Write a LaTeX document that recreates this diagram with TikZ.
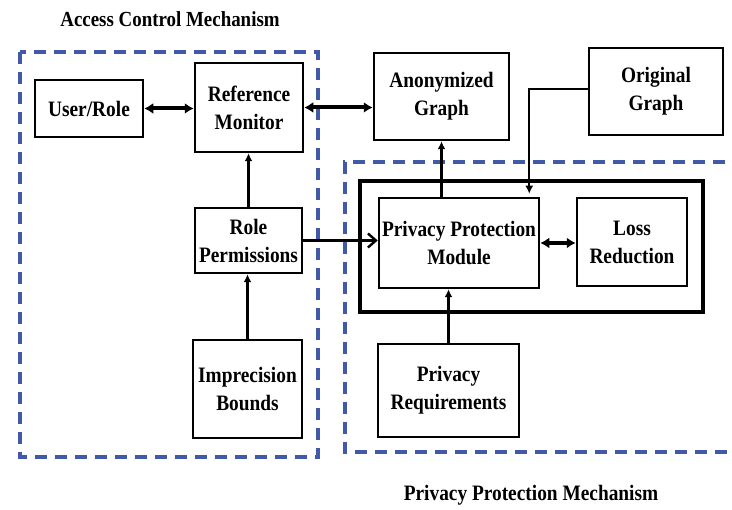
\documentclass[tikz,border=0pt]{standalone}
\usepackage{fontspec}
\newfontfamily\dfont{Liberation Serif}[FakeStretch=0.88]
\usetikzlibrary{arrows.meta}
\definecolor{dashblue}{RGB}{66,88,168}
\tikzset{
  blk/.style={draw=black, line width=2.5pt, align=center, inner sep=0pt,
    font=\dfont\bfseries\fontsize{22}{28}\selectfont},
  dashbox/.style={draw=dashblue, line width=4pt, dash pattern=on 12pt off 8pt},
  dbl/.style={line width=4pt, {Latex[length=9pt,width=11pt]}-{Latex[length=9pt,width=11pt]}},
  sgl/.style={line width=2.4pt, -{Latex[length=8pt,width=8pt]}},
  barb/.style={line width=2.6pt, -{Straight Barb[length=8pt,width=14pt,line width=2.4pt]}},
  ttl/.style={font=\dfont\bfseries\fontsize{21.5}{25}\selectfont, inner sep=0pt}
}
\begin{document}
\begin{tikzpicture}[x=1pt,y=-1pt]
\useasboundingbox (0,0) rectangle (732,510);
% dashed mechanism boxes
\draw[dashbox] (20,52) rectangle (318,457);
\draw[dashbox] (745,162) -- (345,162) -- (345,452) -- (745,452);
% inner thick box
\draw[line width=4pt] (360,181) rectangle (703,312);
% titles
\node[ttl] (t1) at (170,19) {Access Control Mechanism};
\node[ttl, font=\dfont\bfseries\fontsize{22}{26}\selectfont] (t2) at (531,495) {Privacy Protection Mechanism};
% boxes
\node[blk, minimum width=108pt, minimum height=57pt] (user) at (89,108.5) {User/Role};
\node[blk, minimum width=108pt, minimum height=89pt] (ref) at (249,107.5) {Reference\\Monitor};
\node[blk, minimum width=107pt, minimum height=65pt] (role) at (248.5,240.5) {Role\\Permissions};
\node[blk, minimum width=109pt, minimum height=98pt] (imp) at (247.5,389) {Imprecision\\Bounds};
\node[blk, minimum width=135pt, minimum height=87pt] (anon) at (441.5,96.5) {Anonymized\\Graph};
\node[blk, minimum width=134pt, minimum height=87pt] (orig) at (656,91.5) {Original\\Graph};
\node[blk, minimum width=160pt, minimum height=90pt] (ppm) at (459,243) {Privacy Protection\\Module};
\node[blk, minimum width=110pt, minimum height=88pt] (loss) at (632,242) {Loss\\Reduction};
\node[blk, minimum width=141pt, minimum height=93pt] (req) at (448.5,390.5) {Privacy\\Requirements};
% connectors
\draw[dbl] (user.east) -- (user.east -| ref.west);
\draw[dbl] (ref.east) -- (ref.east -| anon.west);
\draw[sgl] (role.north) -- (role.north |- ref.south);
\draw[sgl] (imp.north) -- (imp.north |- role.south);
\draw[barb] (role.east) -- (role.east -| ppm.west);
\draw[sgl] (anon.south |- ppm.north) -- (anon.south);
\draw[sgl] ([yshift=2.5pt]orig.west) -| ([xshift=-11pt,yshift=3pt]ppm.north east);
\draw[dbl] (ppm.east) -- (ppm.east -| loss.west);
\draw[sgl] (req.north) -- (req.north |- ppm.south);
\end{tikzpicture}
\end{document}
